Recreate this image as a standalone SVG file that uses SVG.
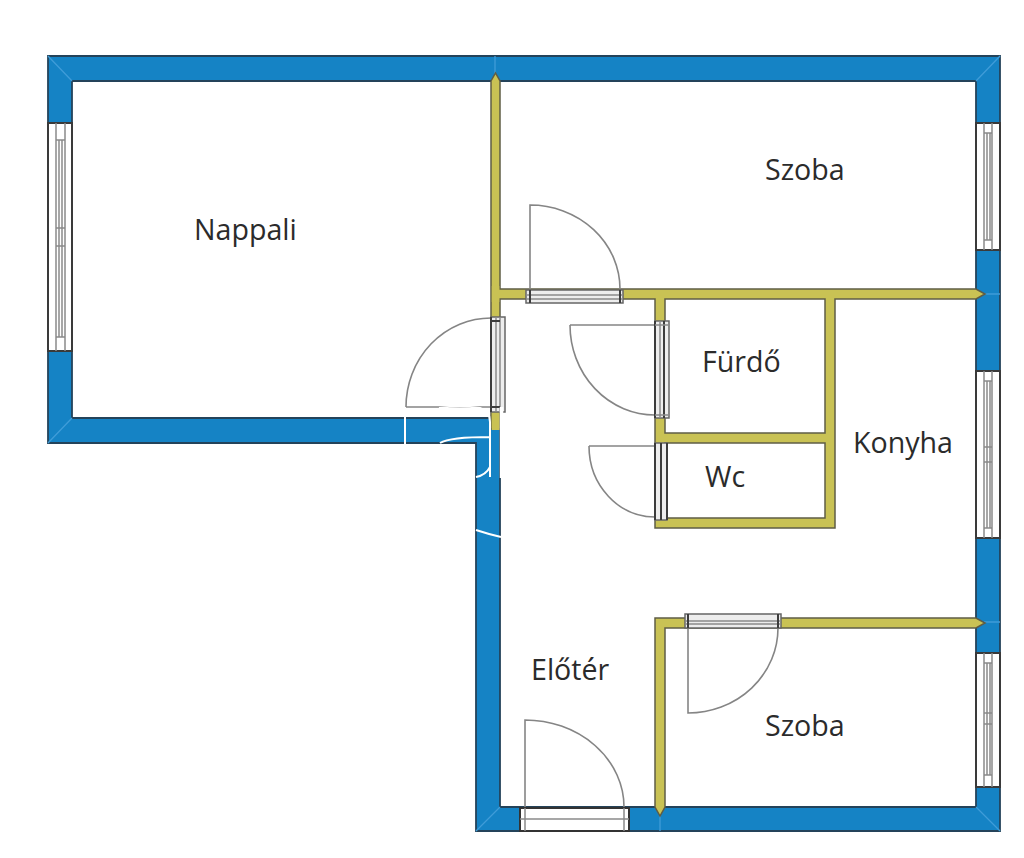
<svg xmlns="http://www.w3.org/2000/svg" width="1024" height="858" viewBox="0 0 1024 858">
<style>
.wall{fill:#1583c5;stroke:#24435a;stroke-width:1.8}
.miter{stroke:#3f9cd8;stroke-width:1.3;fill:none}
.olive{fill:#c9c254;stroke:#5f5d45;stroke-width:1.5}
.olivefill{fill:#c9c254}
.room{fill:#fff;stroke:#5f5d45;stroke-width:1.5}
.win{fill:#fff;stroke:#3a3a3a;stroke-width:2}
.glass{fill:none;stroke:#8a8a8a;stroke-width:1.5}
.door{fill:#fff;stroke:#333;stroke-width:2}
.doorg{fill:#ededed;stroke:#666;stroke-width:1.5}
.dark{fill:none;stroke:#3c3c3c;stroke-width:2}
.leaf{fill:none;stroke:#858585;stroke-width:1.6}
.wm{fill:none;stroke:#fff;stroke-width:2}
.t{font-family:"Open Sans","Noto Sans",sans-serif;font-size:28.600px;fill:#2b2b2b}
</style>
<rect width="1024" height="858" fill="#fff"/>
<path class="wall" fill-rule="evenodd" d="M48 56H1000V831H476V443H48ZM72 81V418H500V807H976V81Z"/>
<g class="miter">
<path d="M48 56L72 81M1000 56L976 81M48 443L72 418M476 831L500 807M1000 831L976 807"/>
<path d="M495 56V75M984 294H1000M984 622H1000M660 815V831"/>
</g>
<g id="walls">
<path class="olive" d="M491 81L495.500 73L500 81V289H976L985 294L976 299H835V528H655V299H500V429H491Z"/>
<rect class="olivefill" x="491.800" y="286" width="7.500" height="16"/>
<path class="room" d="M665 299V433H825V299ZM665 443V518H825V443Z"/>
<path class="olive" d="M655 618H976L985 623L976 628H665V807L660 816L655 807Z"/>
<rect class="olivefill" x="491.800" y="412" width="7.500" height="18"/>
</g>
<g id="windows">
<g>
<rect class="win" x="48" y="123" width="24" height="228"/>
<path class="glass" d="M56 123V351M59 140V337M62 140V337M65 123V351M56 140H65M56 228H65M56 246H65M56 337H65"/>
</g>
<g>
<rect class="win" x="976" y="123" width="24" height="127"/>
<path class="glass" d="M984 123V250M987 133V240M990 133V240M992 123V250M984 133H992M984 240H992"/>
</g>
<g>
<rect class="win" x="976" y="371" width="24" height="167"/>
<path class="glass" d="M984 371V538M987 381V528M990 381V528M992 371V538M984 381H992M984 447H992M984 462H992M984 528H992"/>
</g>
<g>
<rect class="win" x="976" y="653" width="24" height="134"/>
<path class="glass" d="M984 653V787M987 663V775M990 663V775M992 653V787M984 663H992M984 713H992M984 724H992M984 775H992"/>
</g>
</g>
<g id="door-szoba-top">
<path class="leaf" d="M620 289A90 84 0 0 0 530 205V289"/>
<rect class="doorg" x="526" y="290" width="97" height="13"/>
<path class="glass" d="M526 295H623M526 299H623"/>
<path class="dark" d="M530 290V303M620 290V303"/>
</g>
<g id="door-nappali">
<path class="leaf" d="M406 407A85 89 0 0 1 491 318M406 407H491"/>
<rect class="doorg" x="491" y="317" width="14" height="95"/>
<path class="glass" d="M496 317V412M500 317V412"/>
<path class="dark" d="M491 317V412M491 321H500M491 407H500"/>
</g>
<g id="door-furdo">
<path class="leaf" d="M570 325A85 90 0 0 0 655 415M570 325H655"/>
<rect class="doorg" x="655" y="321" width="14" height="97"/>
<path class="dark" d="M655 321V418M664 321V418"/>
<path class="glass" d="M660 321V418M655 325H669M655 415H669"/>
</g>
<g id="door-wc">
<path class="leaf" d="M589 446A66 71 0 0 0 655 517M589 446H655"/>
<rect class="doorg" x="655" y="443" width="12" height="77"/>
<path class="dark" d="M655 443V520M661 443V520M667 443V520"/>
</g>
<g id="door-szoba-bottom">
<path class="leaf" d="M778 628A90 85 0 0 1 688 713V628"/>
<rect class="doorg" x="685" y="614" width="96" height="14"/>
<path class="glass" d="M685 621H781M685 624H781"/>
<path class="dark" d="M688 614V628M778 614V628"/>
</g>
<g id="door-entry">
<path class="leaf" d="M624 807A99 87 0 0 0 525 720V807"/>
<rect class="door" x="520" y="808" width="109" height="23"/>
<path class="glass" d="M520 819H629M525 808V831M624 808V831"/>
</g>
<g id="watermark">
<path class="wm" d="M405 407V444M439 408Q460 405 480 408Q490 411 490 422V477M440 443Q450 437 490 437M476 477Q486 475 490 467M476 530Q488 534 501 537"/>
<path class="wm" style="stroke-width:3.500" d="M501.500 407V478"/>
</g>
<g id="labels">
<text class="t" x="194" y="240">Nappali</text>
<text class="t" x="765" y="180">Szoba</text>
<text class="t" x="702" y="372">Fürdő</text>
<text class="t" x="853" y="453">Konyha</text>
<text class="t" x="705" y="487">Wc</text>
<text class="t" x="531" y="680">Előtér</text>
<text class="t" x="765" y="736">Szoba</text>
</g>
</svg>
